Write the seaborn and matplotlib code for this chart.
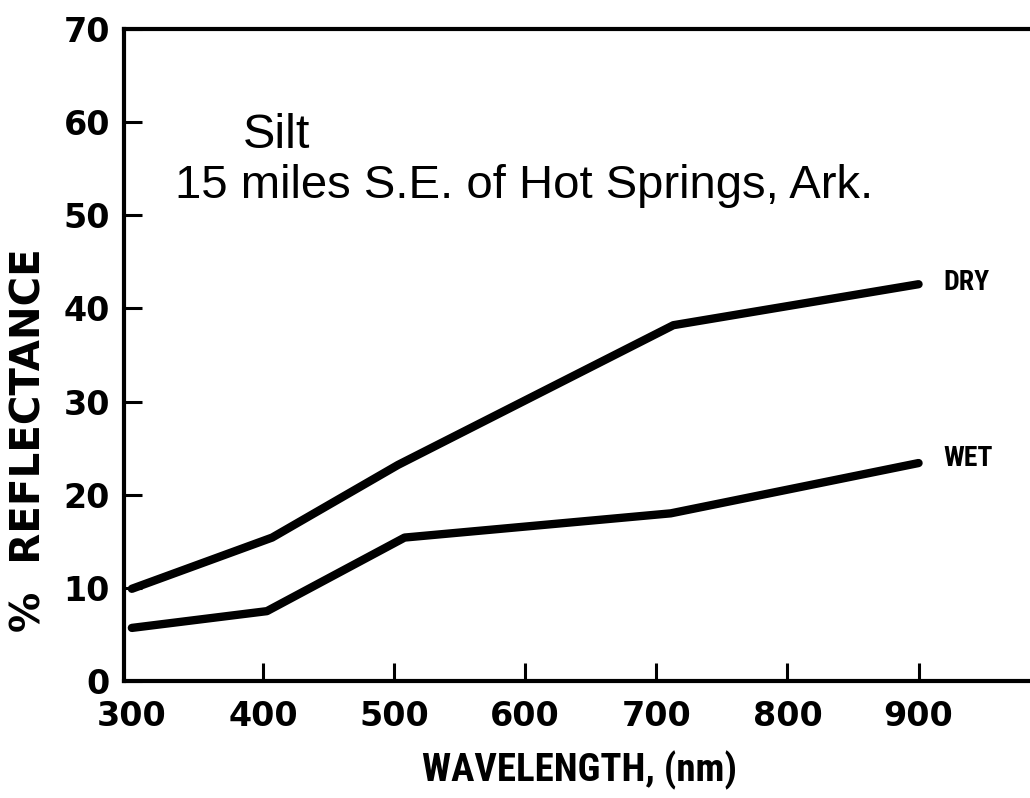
import matplotlib
matplotlib.use("Agg")
import matplotlib.pyplot as plt
from matplotlib import font_manager
import pandas as pd
import seaborn as sns

# ---- data ----
wavelength_dry = [300, 407, 503, 713, 900]
reflect_dry = [9.9, 15.4, 23.2, 38.2, 42.6]
wavelength_wet = [300, 403, 508, 711, 900]
reflect_wet = [5.7, 7.5, 15.4, 18.0, 23.4]
series_labels = ["DRY", "WET"]
x_ticks = [300, 400, 500, 600, 700, 800, 900]
y_ticks = [0, 10, 20, 30, 40, 50, 60, 70]
title_line1 = "Silt"
title_line2 = "15 miles S.E. of Hot Springs, Ark."

df = pd.concat([
    pd.DataFrame({"wavelength": wavelength_dry, "reflectance": reflect_dry, "cond": series_labels[0]}),
    pd.DataFrame({"wavelength": wavelength_wet, "reflectance": reflect_wet, "cond": series_labels[1]}),
])

sns.set_theme(style="white")

available = {f.name for f in font_manager.fontManager.ttflist}


def pick(cands):
    for c in cands:
        if c in available:
            return c
    return "DejaVu Sans"


narrow = pick(["Liberation Sans Narrow", "DejaVu Sans Condensed", "Roboto Condensed", "Open Sans Condensed", "Liberation Sans"])
plt.rcParams["font.family"] = ["DejaVu Sans"]
plt.rcParams["text.color"] = "black"

fig = plt.figure(figsize=(10.30, 7.98), dpi=100)
ax = fig.add_axes([124 / 1030, 1 - 681 / 798, 1 - 124 / 1030, (681 - 29) / 798])

sns.lineplot(data=df, x="wavelength", y="reflectance", hue="cond",
             palette={"DRY": "black", "WET": "black"}, linewidth=6.0,
             legend=False, ax=ax, sort=False, solid_joinstyle="round",
             solid_capstyle="round")

ax.set_xlim(294, 985)
ax.set_ylim(0, 70)
ax.set_xticks(x_ticks)
ax.set_yticks(y_ticks)
ax.set_xticklabels([str(v) for v in x_ticks])
ax.set_yticklabels([str(v) for v in y_ticks])

for side in ["left", "bottom", "top"]:
    ax.spines[side].set_visible(True)
    ax.spines[side].set_linewidth(3)
    ax.spines[side].set_color("black")
ax.spines["right"].set_visible(False)

ax.tick_params(axis="both", direction="in", length=13, width=2.2, color="black",
               labelsize=24, labelcolor="black", bottom=True, left=True,
               top=False, right=False)
ax.tick_params(axis="x", pad=14)
ax.tick_params(axis="y", pad=10)
for lab in ax.get_xticklabels() + ax.get_yticklabels():
    lab.set_fontweight("bold")
# the 300 tick mark sits against the left axis line in the reference
ax.xaxis.get_major_ticks()[0].tick1line.set_visible(False)

ax.set_xlabel("WAVELENGTH, (nm)", fontsize=28, fontweight="bold", color="black",
              family=[narrow, "DejaVu Sans"])
ax.xaxis.set_label_coords((580 - 124) / 906, -(770 - 681) / 652)
ax.set_ylabel("%  REFLECTANCE", fontsize=29, fontweight="bold", color="black")
ax.yaxis.set_label_coords((30 - 124) / 906, (681 - 440) / 652)
ax.xaxis.label.set_va("center")
ax.yaxis.label.set_va("center")

# series labels at the line ends
for xs, ys, lab, dy in [(wavelength_dry, reflect_dry, series_labels[0], 1),
                        (wavelength_wet, reflect_wet, series_labels[1], 3)]:
    ax.annotate(lab, xy=(xs[-1], ys[-1]), xytext=(18, dy), textcoords="offset points",
                fontsize=20, fontweight="bold", family=[narrow, "DejaVu Sans"],
                va="center", ha="left", color="black")

fig.text(243 / 1030, 1 - 148 / 798, title_line1, fontsize=35, color="black",
         family=["Liberation Sans", "DejaVu Sans"], va="baseline", ha="left")
fig.text(175 / 1030, 1 - 198 / 798, title_line2, fontsize=34, color="black",
         family=["Liberation Sans", "DejaVu Sans"], va="baseline", ha="left")

fig.savefig("out.png", dpi=100, facecolor="white")
